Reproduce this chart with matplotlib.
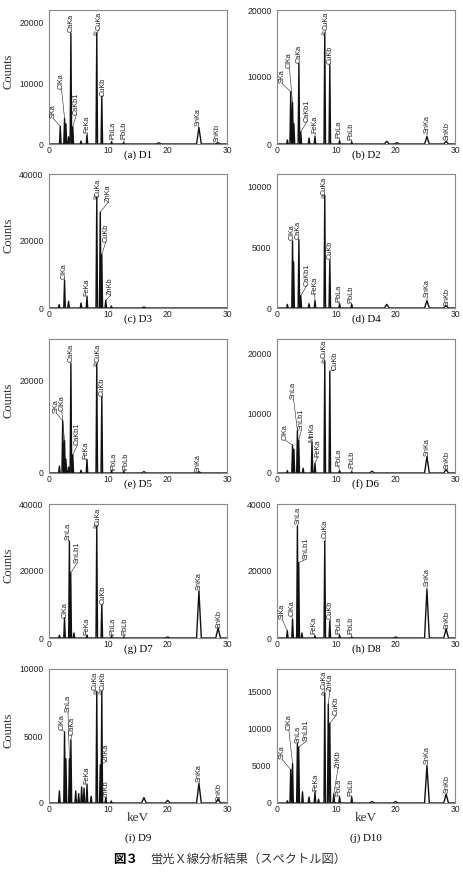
import matplotlib.pyplot as plt

plt.rcParams["font.family"] = ["Liberation Sans", "DejaVu Sans"]

# ---- data ----
samples = ["D1", "D2", "D3", "D4", "D5", "D6", "D7", "D8", "D9", "D10"]
captions = ["(a) D1", "(b) D2", "(c) D3", "(d) D4", "(e) D5",
            "(f) D6", "(g) D7", "(h) D8", "(i) D9", "(j) D10"]
ymax = [22000, 20000, 40000, 11000, 29000, 22500, 40000, 40000, 10000, 18000]
yticks = [[0, 10000, 20000], [0, 10000, 20000], [0, 20000, 40000],
          [0, 5000, 10000], [0, 20000], [0, 10000, 20000],
          [0, 20000, 40000], [0, 20000, 40000], [0, 5000, 10000],
          [0, 5000, 10000, 15000]]
xticks = [0, 10, 20, 30]

d1_lines = ["SKa", "ClKa", "", "", "CaKa", "CaKb1", "", "FeKa", "CuKa", "CuKb", "PbLa", "PbLb", "", "SnKa", "SnKb"]
d1_kev = [1.9, 2.62, 2.85, 3.3, 3.69, 4.01, 5.4, 6.4, 8.05, 8.9, 10.55, 12.6, 18.5, 25.27, 28.5]
d1_counts = [2900, 4200, 3300, 1200, 18200, 2800, 500, 1500, 18200, 7800, 350, 250, 200, 2700, 200]

d2_lines = ["", "SKa", "ClKa", "", "CaKa", "CaKb1", "", "FeKa", "CuKa", "CuKb", "PbLa", "PbLb", "", "", "SnKa", "SnKb"]
d2_kev = [1.75, 2.31, 2.62, 2.85, 3.69, 4.01, 5.4, 6.4, 8.05, 8.9, 10.55, 12.6, 18.5, 20.2, 25.27, 28.5]
d2_counts = [600, 7800, 6200, 3000, 12000, 1800, 900, 1100, 16500, 11800, 500, 300, 400, 200, 1100, 400]

d3_lines = ["", "ClKa", "", "", "FeKa", "CuKa", "ZnKa", "CuKb", "ZnKb", "", ""]
d3_kev = [1.7, 2.62, 3.3, 5.4, 6.4, 8.05, 8.64, 8.9, 9.57, 10.5, 16.0]
d3_counts = [1000, 8300, 2000, 1500, 3300, 33000, 28600, 16000, 2300, 600, 300]

d4_lines = ["", "ClKa", "", "CaKa", "CaKb1", "", "FeKa", "CuKa", "CuKb", "PbLa", "PbLb", "", "SnKa", "SnKb"]
d4_kev = [1.75, 2.62, 2.8, 3.69, 4.01, 5.4, 6.4, 8.05, 8.9, 10.55, 12.6, 18.5, 25.27, 28.5]
d4_counts = [300, 5500, 3800, 5600, 1000, 350, 600, 9200, 3900, 350, 300, 300, 600, 200]

d5_lines = ["", "SKa", "ClKa", "", "", "CaKa", "CaKb1", "", "FeKa", "CuKa", "CuKb", "PbLa", "PbLb", "", "SnKa"]
d5_kev = [1.75, 2.31, 2.62, 2.85, 3.3, 3.69, 4.01, 5.4, 6.4, 8.05, 8.9, 10.55, 12.6, 16.0, 25.27]
d5_counts = [1500, 11300, 7000, 3000, 1300, 23700, 3900, 600, 2900, 23500, 16500, 500, 400, 300, 250]

d6_lines = ["", "ClKa", "", "SnLa", "SnLb1", "", "MnKa", "FeKa", "CuKa", "CuKb", "PbLa", "PbLb", "", "SnKa", "SnKb"]
d6_kev = [1.75, 2.62, 2.85, 3.44, 3.66, 4.4, 5.9, 6.4, 8.05, 8.9, 10.55, 12.6, 16.0, 25.27, 28.5]
d6_counts = [400, 4700, 4000, 7100, 5500, 800, 5200, 1600, 18700, 17100, 400, 200, 300, 2750, 600]

d7_lines = ["", "ClKa", "SnLa", "SnLb1", "", "FeKa", "CuKa", "CuKb", "PbLa", "PbLb", "", "SnKa", "SnKb"]
d7_kev = [1.75, 2.62, 3.44, 3.66, 4.2, 6.4, 8.05, 8.9, 10.55, 12.6, 20.0, 25.27, 28.5]
d7_counts = [800, 6000, 28900, 19400, 1500, 800, 33300, 9900, 600, 300, 300, 14000, 3000]

d8_lines = ["SiKa", "ClKa", "SnLa", "SnLb1", "", "FeKa", "CuKa", "CuKb", "PbLa", "PbLb", "", "SnKa", "SnKb"]
d8_kev = [1.74, 2.62, 3.44, 3.66, 4.2, 6.4, 8.05, 8.9, 10.55, 12.6, 20.0, 25.27, 28.5]
d8_counts = [2200, 5600, 33400, 22500, 1500, 600, 28900, 5100, 800, 300, 300, 14500, 2700]

d9_lines = ["", "ClKa", "", "SnLa", "CaKa", "", "", "", "", "FeKa", "", "CuKa", "ZnKa", "CuKb", "ZnKb", "", "", "", "SnKa", "SnKb"]
d9_kev = [1.75, 2.62, 2.85, 3.44, 3.69, 4.5, 5.0, 5.5, 5.9, 6.4, 7.1, 8.05, 8.64, 8.9, 9.57, 10.5, 16.0, 20.0, 25.27, 28.5]
d9_counts = [900, 5300, 3300, 3300, 4700, 900, 700, 1200, 1100, 1350, 500, 8300, 2850, 8300, 400, 150, 400, 200, 1450, 300]

d10_lines = ["", "SKa", "ClKa", "SnLa", "SnLb1", "", "", "FeKa", "", "CuKa", "ZnKa", "CuKb", "ZnKb", "PbLa", "PbLb", "", "", "SnKa", "SnKb"]
d10_kev = [1.75, 2.31, 2.62, 3.44, 3.66, 4.3, 5.4, 6.4, 7.0, 8.05, 8.64, 8.9, 9.57, 10.55, 12.6, 16.0, 20.0, 25.27, 28.5]
d10_counts = [300, 4500, 5300, 8000, 7500, 1500, 800, 1450, 500, 14700, 13300, 10700, 1200, 800, 800, 200, 200, 5000, 1200]

spectra = {
    "D1": (d1_lines, d1_kev, d1_counts), "D2": (d2_lines, d2_kev, d2_counts),
    "D3": (d3_lines, d3_kev, d3_counts), "D4": (d4_lines, d4_kev, d4_counts),
    "D5": (d5_lines, d5_kev, d5_counts), "D6": (d6_lines, d6_kev, d6_counts),
    "D7": (d7_lines, d7_kev, d7_counts), "D8": (d8_lines, d8_kev, d8_counts),
    "D9": (d9_lines, d9_kev, d9_counts), "D10": (d10_lines, d10_kev, d10_counts),
}

# peaks that run off scale (drawn with a break mark)
broken = {"D1": ["CuKa"], "D2": ["CuKa"], "D3": ["CuKa"], "D4": ["CuKa"],
          "D5": ["CuKa"], "D6": ["CuKa"], "D7": ["CuKa"], "D8": [],
          "D9": ["CuKa", "CuKb"], "D10": ["CuKa"]}

# ---- label placement (keV, counts at the foot of the rotated text) ----
label_xy = {
    "D1": {"SKa": (0.7, 4200), "ClKa": (2.1, 9100), "CaKa": (3.65, 18400), "CaKb1": (4.6, 4750),
           "FeKa": (6.4, 1750), "CuKa": (8.4, 18700), "CuKb": (9.2, 7900), "PbLa": (10.7, 800),
           "PbLb": (12.7, 800), "SnKa": (25.2, 2900), "SnKb": (28.3, 300)},
    "D2": {"SKa": (0.85, 9050), "ClKa": (2.1, 11300), "CaKa": (3.65, 12100), "CaKb1": (5.05, 3330),
           "FeKa": (6.45, 1600), "CuKa": (8.2, 17000), "CuKb": (8.95, 12000), "PbLa": (10.5, 850),
           "PbLb": (12.5, 600), "SnKa": (25.3, 1600), "SnKb": (28.7, 600)},
    "D3": {"ClKa": (2.6, 8700), "FeKa": (6.4, 3700), "CuKa": (8.3, 33200), "ZnKa": (9.95, 31500),
           "CuKb": (9.55, 19600), "ZnKb": (10.4, 3800)},
    "D4": {"ClKa": (2.55, 5550), "CaKa": (3.6, 5650), "CaKb1": (5.0, 1830), "FeKa": (6.35, 1150),
           "CuKa": (8.0, 9300), "CuKb": (9.0, 4000), "PbLa": (10.4, 460), "PbLb": (12.5, 400),
           "SnKa": (25.3, 870), "SnKb": (28.6, 200)},
    "D5": {"SKa": (1.25, 12950), "ClKa": (2.15, 13500), "CaKa": (3.65, 24100), "CaKb1": (4.8, 6100),
           "FeKa": (6.2, 3000), "CuKa": (8.2, 24000), "CuKb": (8.9, 16600), "PbLa": (11.0, 720),
           "PbLb": (13.0, 720), "SnKa": (25.2, 300)},
    "D6": {"ClKa": (1.4, 5500), "SnLa": (2.8, 12400), "SnLb1": (4.1, 7200), "MnKa": (5.8, 5250),
           "FeKa": (6.9, 2750), "CuKa": (7.9, 19300), "CuKb": (9.85, 17350), "PbLa": (10.4, 1100),
           "PbLb": (12.7, 830), "SnKa": (25.3, 2800), "SnKb": (28.6, 600)},
    "D7": {"ClKa": (2.65, 6100), "SnLa": (3.2, 29400), "SnLb1": (4.7, 22400), "FeKa": (6.4, 1000),
           "CuKa": (8.2, 33500), "CuKb": (9.1, 10150), "PbLa": (10.8, 1000), "PbLb": (12.8, 1000),
           "SnKa": (25.3, 14300), "SnKb": (28.6, 3100)},
    "D8": {"SiKa": (0.85, 5650), "ClKa": (2.5, 6650), "SnLa": (3.5, 33900), "SnLb1": (4.9, 23500),
           "FeKa": (6.2, 1200), "CuKa": (8.05, 30000), "CuKb": (8.9, 5650), "PbLa": (10.4, 1200),
           "PbLb": (12.5, 1200), "SnKa": (25.3, 15500), "SnKb": (28.6, 2800)},
    "D9": {"ClKa": (2.15, 5450), "SnLa": (3.2, 6820), "CaKa": (3.85, 5100), "FeKa": (6.4, 1400),
           "CuKa": (7.75, 8400), "CuKb": (9.1, 8400), "ZnKa": (9.65, 3100), "ZnKb": (9.65, 370),
           "SnKa": (25.3, 1600), "SnKb": (28.6, 150)},
    "D10": {"SKa": (0.85, 5860), "ClKa": (2.0, 9820), "SnLa": (3.5, 8100), "SnLb1": (4.9, 8300),
            "FeKa": (6.5, 1670), "CuKa": (8.0, 15300), "ZnKa": (8.9, 15100), "CuKb": (10.0, 11800),
            "ZnKb": (10.3, 4760), "PbLa": (10.5, 900), "PbLb": (12.5, 900), "SnKa": (25.3, 5200),
            "SnKb": (28.6, 1300)},
}

# ---- layout in pixels ----
W, H = 463, 882
col_x = [49, 277]
row_top = [10, 174, 339, 504, 669]
ax_w, ax_h = 178, 134

fig = plt.figure(figsize=(W / 100, H / 100), dpi=100)

for i, name in enumerate(samples):
    r, c = divmod(i, 2)
    ax = fig.add_axes([col_x[c] / W, 1 - (row_top[r] + ax_h) / H, ax_w / W, ax_h / H])
    lines, kev, counts = spectra[name]

    # spectrum as narrow peaks on a flat baseline
    order = sorted(range(len(kev)), key=lambda k: kev[k])
    xs, ys = [0], [0]
    for k in order:
        hw = 0.4 if kev[k] > 15 else 0.13
        xs += [kev[k] - hw, kev[k], kev[k] + hw]
        ys += [0, counts[k], 0]
    xs.append(30)
    ys.append(0)
    ax.plot(xs, ys, color="#111111", lw=1.0)

    # peak labels
    for line, e, h in zip(lines, kev, counts):
        if not line:
            continue
        lx, ly = label_xy[name][line]
        ax.plot([e, lx], [h, ly], color="#222222", lw=0.4)
        ax.text(lx, ly, line, rotation=90, ha="center", va="bottom",
                fontsize=5.3, color="#222222")
        if line in broken[name]:
            ax.text(e, h, "≈", rotation=70, ha="center", va="center",
                    fontsize=6.5, color="#111111")

    ax.set_xlim(0, 30)
    ax.set_ylim(0, ymax[i])
    ax.set_xticks(xticks)
    ax.set_yticks(yticks[i])
    ax.tick_params(length=0, labelsize=6.2, colors="#222222")
    ax.tick_params(axis="x", pad=1.5)
    ax.tick_params(axis="y", pad=4)
    for s in ax.spines.values():
        s.set_color("#888888")
        s.set_linewidth(0.8)

    ybot = row_top[r] + ax_h
    xc = (col_x[c] + ax_w / 2) / W
    if r < 4:
        fig.text(xc, 1 - (ybot + 11) / H, captions[i], ha="center", va="center",
                 fontsize=7.8, family="Liberation Serif")
    else:
        fig.text(xc, 1 - (ybot + 15) / H, "keV", ha="center", va="center",
                 fontsize=9.5, family="Liberation Serif", color="#333333")
        fig.text(xc, 1 - (ybot + 35) / H, captions[i], ha="center", va="center",
                 fontsize=7.8, family="Liberation Serif")
    if c == 0:
        fig.text(8 / W, 1 - (row_top[r] + ax_h / 2 - 6) / H, "Counts", rotation=90,
                 ha="center", va="center", fontsize=9, family="Liberation Serif",
                 color="#333333")

fig.text(113 / W, 1 - 860 / H, "図３", ha="left", va="center", fontsize=9,
         fontweight="bold", family=["Noto Sans CJK JP", "DejaVu Sans"])
fig.text(150 / W, 1 - 860 / H, "蛍光Ｘ線分析結果（スペクトル図）", ha="left", va="center",
         fontsize=8.8, family=["Noto Sans CJK JP", "DejaVu Sans"], color="#333333")

fig.savefig("out.png", dpi=100)
